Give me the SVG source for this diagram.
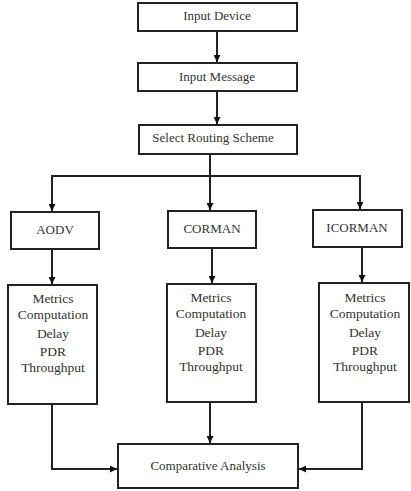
<svg xmlns="http://www.w3.org/2000/svg" width="411" height="491" viewBox="0 0 411 491">
<defs>
<style>
.box{fill:#fff;stroke:#222;stroke-width:2}
.t{font-family:"Liberation Serif","Times New Roman",serif;font-size:13px;fill:#333;text-anchor:middle}
.m{font-size:13.5px}
.c{fill:none;stroke:#222;stroke-width:2}
</style>
<marker id="ah" viewBox="0 0 10 10" refX="10" refY="5" markerWidth="7" markerHeight="7" markerUnits="userSpaceOnUse" orient="auto">
<path d="M0,0 L10,5 L0,10 z" fill="#111"/>
</marker>
</defs>
<rect width="411" height="491" fill="#fff"/>
<g id="connectors">
<path class="c" d="M217,31 V62" marker-end="url(#ah)"/>
<path class="c" d="M217,91 V124" marker-end="url(#ah)"/>
<path class="c" d="M210,154 V176"/>
<path class="c" d="M52,211 V176 H360 V209" marker-end="url(#ah)"/>
<path class="c" d="M52,177 V211" marker-end="url(#ah)"/>
<path class="c" d="M210,176 V210" marker-end="url(#ah)"/>
<path class="c" d="M52,249 V284" marker-end="url(#ah)"/>
<path class="c" d="M212,248 V283" marker-end="url(#ah)"/>
<path class="c" d="M362,247 V282" marker-end="url(#ah)"/>
<path class="c" d="M52,404 V469 H117" marker-end="url(#ah)"/>
<path class="c" d="M210,402 V443" marker-end="url(#ah)"/>
<path class="c" d="M362,402 V469 H299" marker-end="url(#ah)"/>
</g>
<g id="input-device"><rect class="box" x="138" y="3" width="159" height="28"/><text class="t" x="217" y="20">Input Device</text></g>
<g id="input-message"><rect class="box" x="138" y="63" width="159" height="28"/><text class="t" x="217" y="81">Input Message</text></g>
<g id="select-routing"><rect class="box" x="139" y="125" width="158" height="29"/><text class="t" x="213" y="142">Select Routing Scheme</text></g>
<g id="aodv"><rect class="box" x="11" y="212" width="88" height="37"/><text class="t" x="55" y="234">AODV</text></g>
<g id="corman"><rect class="box" x="168" y="211" width="88" height="37"/><text class="t" x="212" y="233">CORMAN</text></g>
<g id="icorman"><rect class="box" x="313" y="210" width="89" height="37"/><text class="t" x="357" y="232">ICORMAN</text></g>
<g id="metrics-aodv"><rect class="box" x="8" y="285" width="89" height="119"/>
<text class="t m" x="53" y="303">Metrics</text><text class="t m" x="53" y="319">Computation</text><text class="t m" x="53" y="338">Delay</text><text class="t m" x="53" y="356">PDR</text><text class="t m" x="53" y="372">Throughput</text></g>
<g id="metrics-corman"><rect class="box" x="167" y="284" width="89" height="118"/>
<text class="t m" x="211" y="302">Metrics</text><text class="t m" x="211" y="318">Computation</text><text class="t m" x="211" y="337">Delay</text><text class="t m" x="211" y="355">PDR</text><text class="t m" x="211" y="371">Throughput</text></g>
<g id="metrics-icorman"><rect class="box" x="319" y="283" width="90" height="119"/>
<text class="t m" x="365" y="302">Metrics</text><text class="t m" x="365" y="318">Computation</text><text class="t m" x="365" y="337">Delay</text><text class="t m" x="365" y="355">PDR</text><text class="t m" x="365" y="371">Throughput</text></g>
<g id="comparative"><rect class="box" x="118" y="444" width="180" height="44"/><text class="t" x="208" y="470">Comparative Analysis</text></g>
</svg>
